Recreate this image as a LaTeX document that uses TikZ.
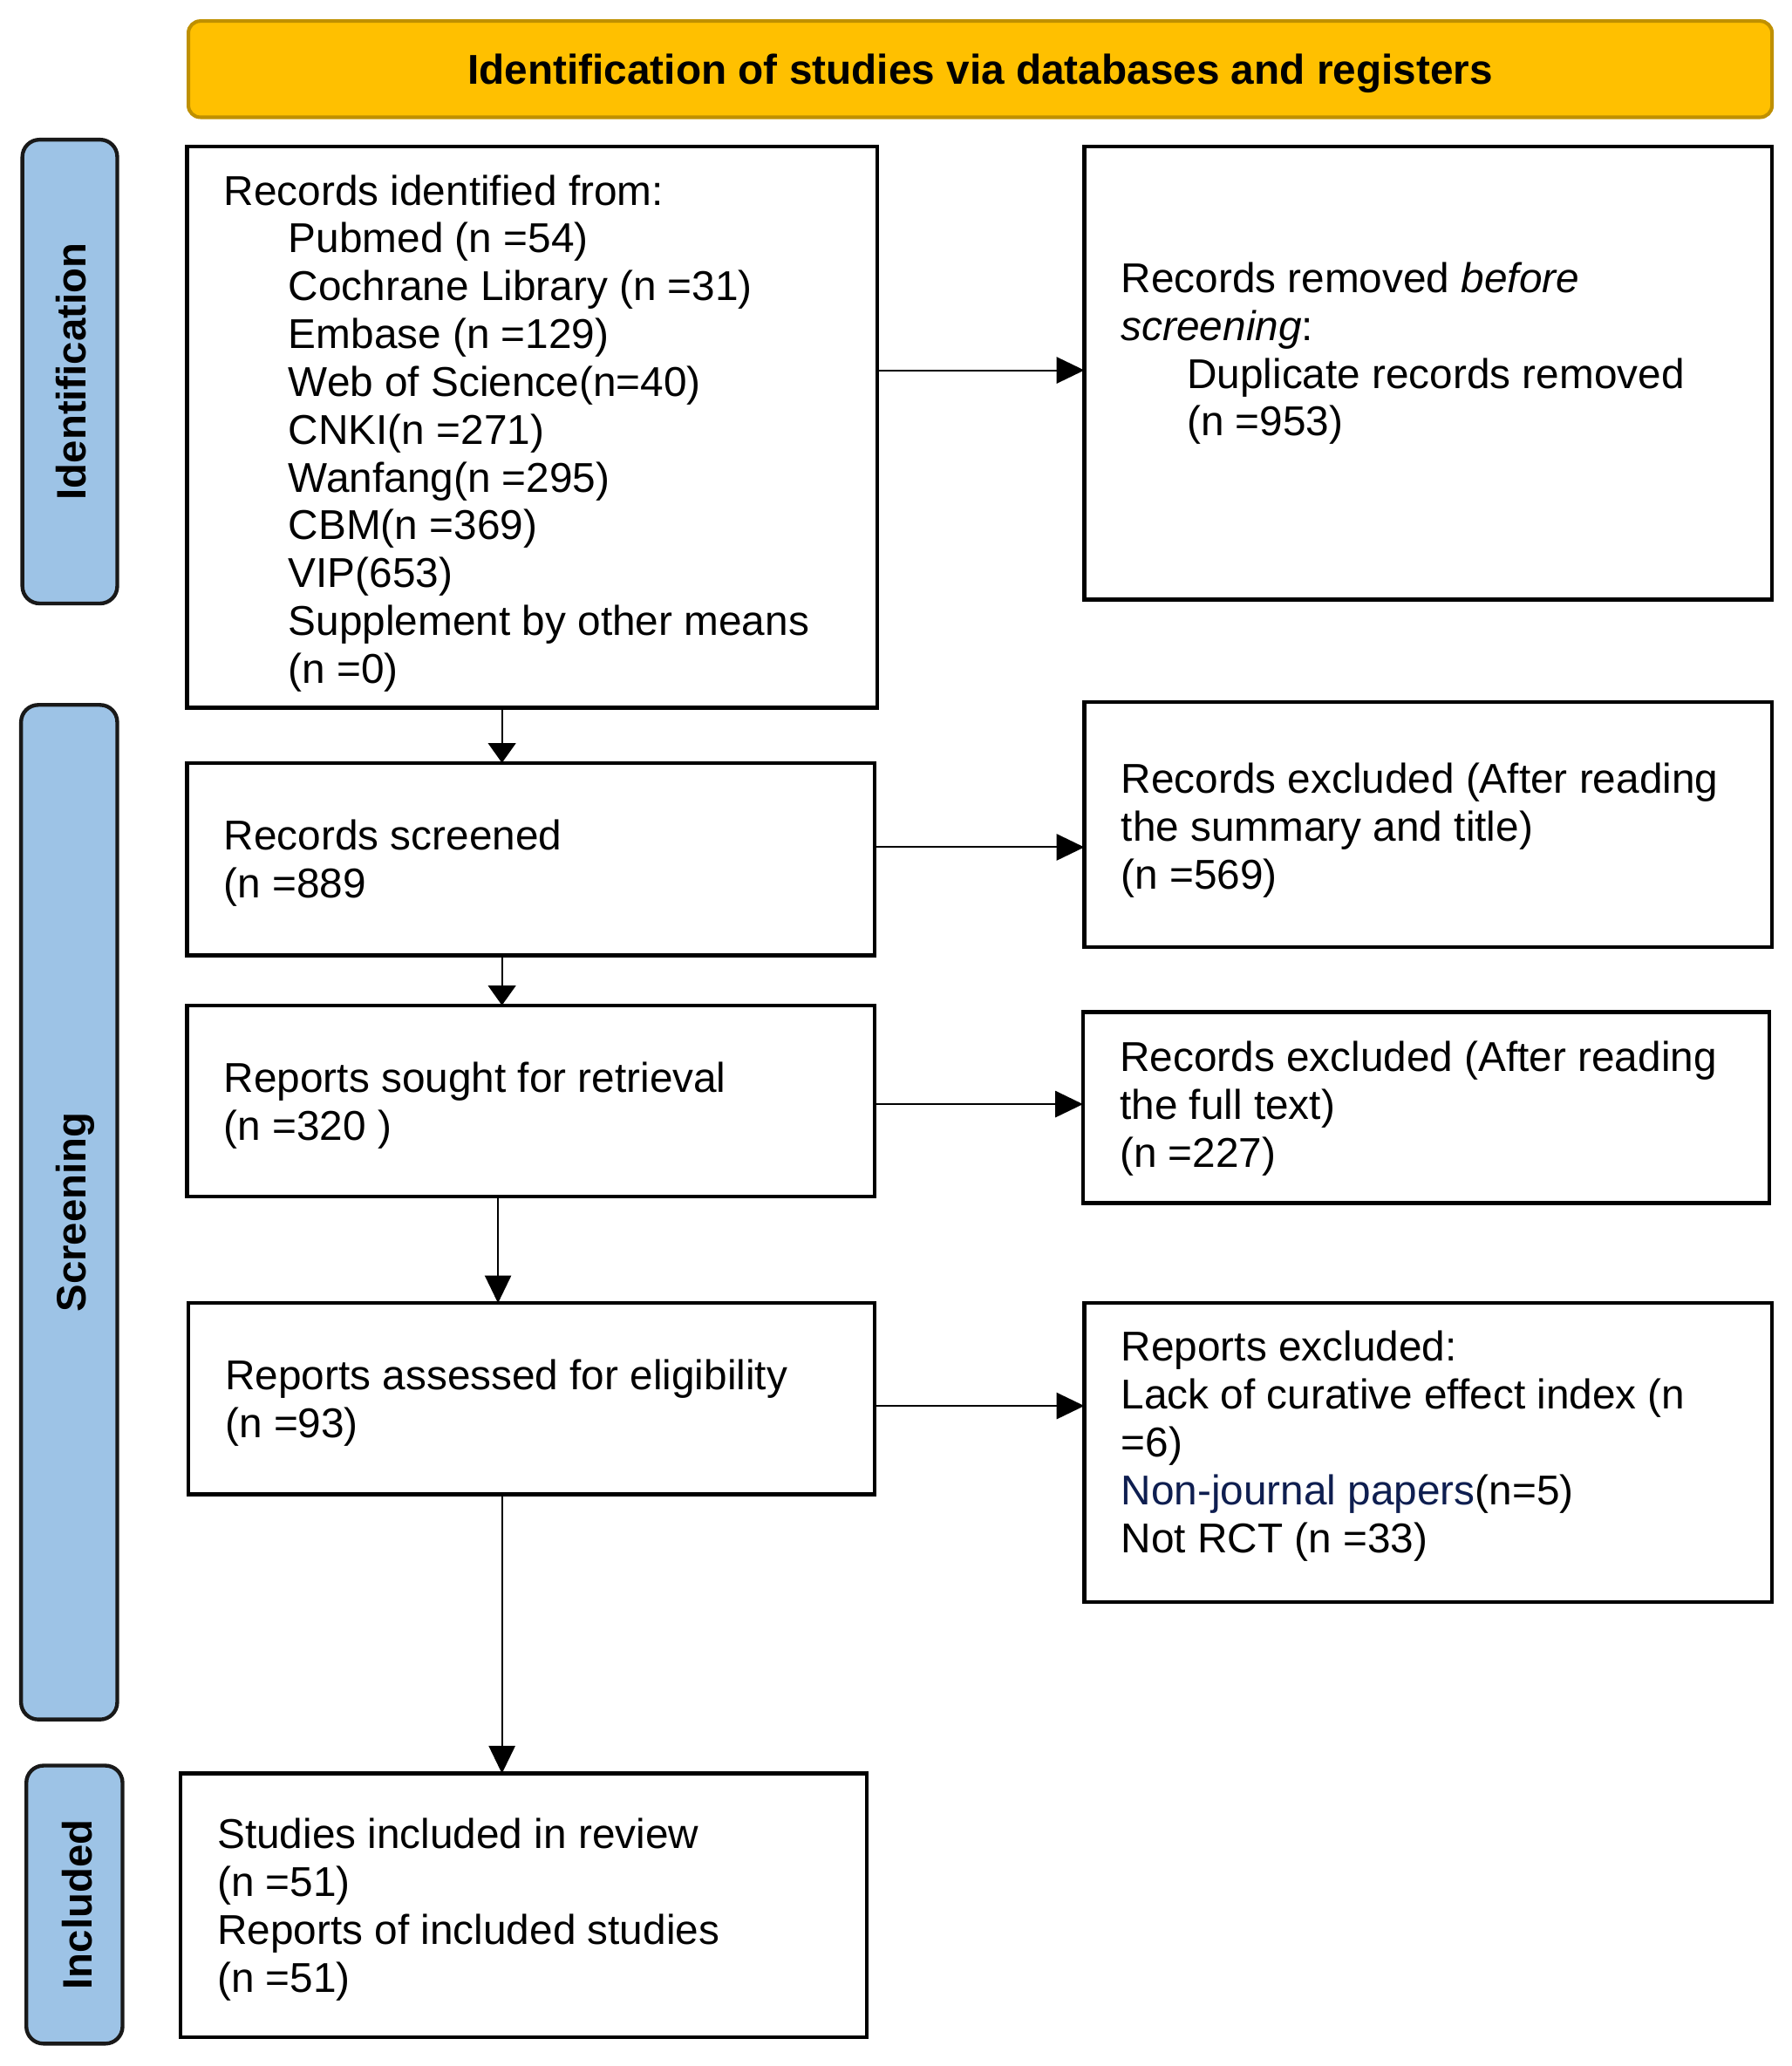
\documentclass[tikz,border=0pt]{standalone}
\usepackage{fontspec}
\setmainfont{Liberation Sans}
\usetikzlibrary{arrows.meta}
\definecolor{bannerfill}{HTML}{FFC000}
\definecolor{bannerdraw}{HTML}{BF9000}
\definecolor{sidefill}{HTML}{9DC3E6}
\definecolor{navytext}{RGB}{14,30,80}
\tikzset{
  box/.style={draw=black, line width=2.9pt, rectangle, inner sep=0pt, outer sep=0pt, anchor=north west, fill=white},
  banner/.style={draw=bannerdraw, fill=bannerfill, line width=2.7pt, rounded corners=9pt, rectangle, inner sep=0pt, outer sep=0pt, anchor=north west},
  side/.style={draw=black!90, fill=sidefill, line width=2.9pt, rounded corners=13pt, rectangle, inner sep=0pt, outer sep=0pt, anchor=north west},
  txt/.style={inner sep=0pt, outer sep=0pt, anchor=base west, font=\fontsize{31.6}{36.3}\selectfont},
  headtxt/.style={inner sep=0pt, anchor=base, font=\fontsize{31.6}{36}\selectfont\bfseries},
  sidetxt/.style={inner sep=0pt, anchor=base, rotate=90, font=\fontsize{31.3}{36}\selectfont\bfseries},
  arr/.style={line width=1.3pt, -{Triangle[length=21pt,width=20pt]}},
  arrshort/.style={line width=1.3pt, -{Triangle[length=15pt,width=21pt]}}
}
\begin{document}
\begin{tikzpicture}[x=1pt,y=-1pt]
\useasboundingbox (0,0) rectangle (1360,1568);

% banner
\node[banner, minimum width=1202pt, minimum height=73pt] (ban) at (143,16) {};
\node[headtxt] (bant) at (744,64.1) {Identification of studies via databases and registers};

% side labels
\node[side, minimum width=72pt, minimum height=352pt] (sid) at (17,106) {};
\node[sidetxt] (sidt) at (65.5,282) {Identification};
\node[side, minimum width=73pt, minimum height=770pt] (ssc) at (16,535) {};
\node[sidetxt] (ssct) at (65.5,920) {Screening};
\node[side, minimum width=73pt, minimum height=211pt] (sinc) at (20,1340) {};
\node[sidetxt] (sinct) at (69.5,1445.5) {Included};

% boxes
\node[box, minimum width=524pt, minimum height=426pt] (b1) at (142,111) {};
\node[box, minimum width=522pt, minimum height=344pt] (r1) at (823,111) {};
\node[box, minimum width=522pt, minimum height=146pt] (b2) at (142,579) {};
\node[box, minimum width=522pt, minimum height=186pt] (r2) at (823,533) {};
\node[box, minimum width=522pt, minimum height=145pt] (b3) at (142,763) {};
\node[box, minimum width=521pt, minimum height=145pt] (r3) at (822,768) {};
\node[box, minimum width=521pt, minimum height=145pt] (b4) at (143,989) {};
\node[box, minimum width=522pt, minimum height=227pt] (r4) at (823,989) {};
\node[box, minimum width=521pt, minimum height=200pt] (b5) at (137,1346) {};

% texts b1
\node[txt] (b1l1) at (170,155.6) {Records identified from:};
\node[txt] (b1l2) at (219,191.9) {Pubmed (n =54)};
\node[txt] (b1l3) at (219,228.2) {Cochrane Library (n =31)};
\node[txt] (b1l4) at (219,264.5) {Embase (n =129)};
\node[txt] (b1l5) at (219,300.8) {Web of Science(n=40)};
\node[txt] (b1l6) at (219,337.1) {CNKI(n =271)};
\node[txt] (b1l7) at (219,373.4) {Wanfang(n =295)};
\node[txt] (b1l8) at (219,409.7) {CBM(n =369)};
\node[txt] (b1l9) at (219,446.0) {VIP(653)};
\node[txt] (b1l10) at (219,482.3) {Supplement by other means};
\node[txt] (b1l11) at (219,518.6) {(n =0)};

% texts r1
\node[txt] (r1l1) at (851,222) {Records removed \textit{before}};
\node[txt] (r1l2) at (851,258.3) {\textit{screening}:};
\node[txt] (r1l3) at (901,294.6) {Duplicate records removed};
\node[txt] (r1l4) at (901,330.9) {(n =953)};

% b2, r2
\node[txt] (b2l1) at (170,645) {Records screened};
\node[txt] (b2l2) at (170,681.3) {(n =889};
\node[txt] (r2l1) at (851,602) {Records excluded (After reading};
\node[txt] (r2l2) at (851,638.3) {the summary and title)};
\node[txt] (r2l3) at (851,674.6) {(n =569)};

% b3, r3
\node[txt] (b3l1) at (170,829) {Reports sought for retrieval};
\node[txt] (b3l2) at (170,865.3) {(n =320 )};
\node[txt] (r3l1) at (850,813) {Records excluded (After reading};
\node[txt] (r3l2) at (850,849.3) {the full text)};
\node[txt] (r3l3) at (850,885.6) {(n =227)};

% b4, r4
\node[txt] (b4l1) at (171,1055) {Reports assessed for eligibility};
\node[txt] (b4l2) at (171,1091.3) {(n =93)};
\node[txt] (r4l1) at (851,1033) {Reports excluded:};
\node[txt] (r4l2) at (851,1069.3) {Lack of curative effect index (n};
\node[txt] (r4l3) at (851,1105.6) {=6)};
\node[txt] (r4l4) at (851,1141.9) {\textcolor{navytext}{Non-journal papers}(n=5)};
\node[txt] (r4l5) at (851,1178.2) {Not RCT (n =33)};

% b5
\node[txt] (b5l1) at (165,1403) {Studies included in review};
\node[txt] (b5l2) at (165,1439.3) {(n =51)};
\node[txt] (b5l3) at (165,1475.6) {Reports of included studies};
\node[txt] (b5l4) at (165,1511.9) {(n =51)};

% connectors
\coordinate (vx) at (381,0);
\coordinate (vxb) at (378,0);
\draw[arr] ([yshift=2pt]b1.east |- r1.west) -- ([yshift=2pt]r1.west);
\draw[arr] ([yshift=9pt]b2.east) -- ([yshift=9pt]b2.east -| r2.west);
\draw[arr] ([yshift=-2.5pt]b3.east) -- ([yshift=-2.5pt]b3.east -| r3.west);
\draw[arr] ([yshift=-5.5pt]b4.east) -- ([yshift=-5.5pt]b4.east -| r4.west);
\draw[arrshort] (b1.south -| vx) -- (b2.north -| vx);
\draw[arrshort] (b2.south -| vx) -- (b3.north -| vx);
\draw[arr] (b3.south -| vxb) -- (b4.north -| vxb);
\draw[arr] (b4.south -| vx) -- (b5.north -| vx);
\end{tikzpicture}
\end{document}
